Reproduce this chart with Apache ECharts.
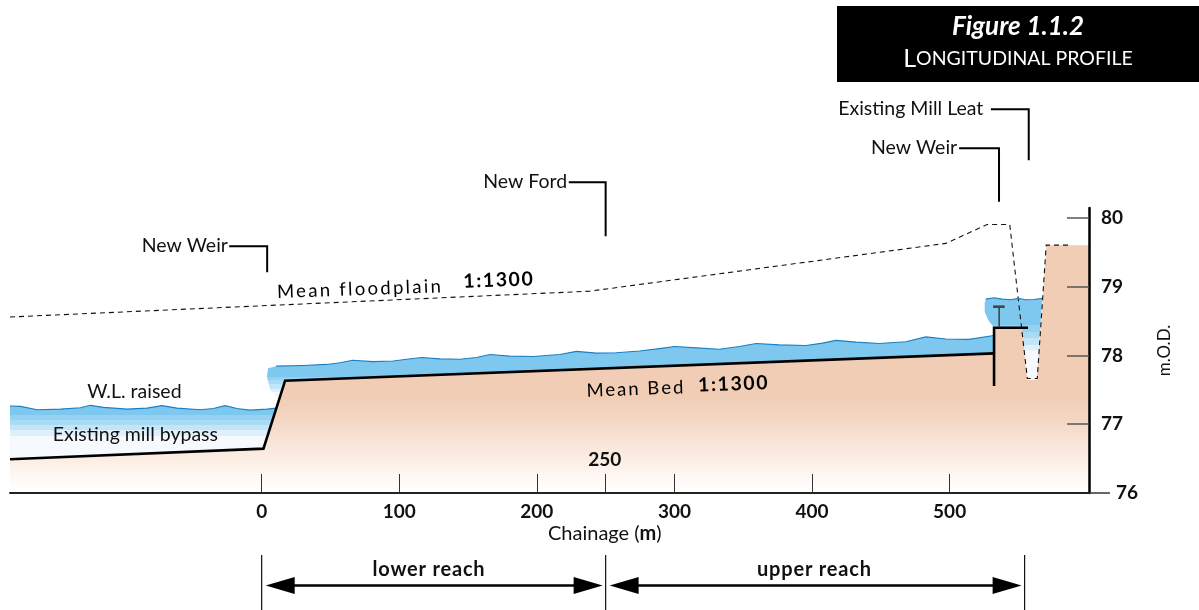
<!DOCTYPE html>
<html><head><meta charset="utf-8">
<script src="https://cdn.jsdelivr.net/npm/echarts@6/dist/echarts.min.js"></script>
<style>html,body{margin:0;padding:0;background:#fff}#c{width:1199px;height:610px}</style>
</head><body><div id="c"></div>
<script>
// Chainage (m), level (m.O.D.)
const xTickValues = [0,100,200,250,300,400,500];
const xLabelValues = [0,100,200,300,400,500];
const yTickValues = [77,78,79,80];

const bedLower = [[-182.9,76.49],[1.3,76.645],[17.05,77.633],[532.3,78.03]];
const weirCrest = [[532.3,77.555],[532.3,78.403],[557,78.403]];
const bedOutline = [[-182.9,76.49],[1.3,76.645],[17.05,77.633],[532.3,78.03],[532.3,78.403],[552.4,78.403],[556.5,77.643],[563.3,77.643],[570.5,79.605],[601.3,79.605],[601.3,76],[-182.9,76]];

const floodplain = [[-182.9,78.56],[238.4,78.935],[497.2,79.63],[527.2,79.905],[543.7,79.905],[556.5,77.665],[563.7,77.665],[570.2,79.605],[589,79.605]];

const surfaceLower = [[-182.9,77.265],[-175.3,77.26],[-163.1,77.21],[-146.2,77.22],[-131.7,77.24],[-124.5,77.275],[-115,77.245],[-97.8,77.22],[-83.3,77.235],[-72.4,77.27],[-61.5,77.235],[-44.6,77.21],[-35.2,77.23],[-26.5,77.27],[-18,77.23],[-8.3,77.205],[3.8,77.22],[11,77.235]];
const surfaceUpper = [[10.5,77.845],[30.3,77.855],[47.3,77.87],[57,77.895],[66.2,77.93],[81.1,77.91],[95.6,77.92],[105.4,77.945],[116.3,77.97],[129.5,77.95],[144,77.945],[156.2,77.97],[165.8,78.015],[180.3,77.99],[197.2,77.985],[216.7,78.015],[228.7,78.06],[243.2,78.035],[257.8,78.04],[274.7,78.065],[289.2,78.1],[300,78.13],[315.8,78.11],[332.7,78.09],[347.2,78.13],[359.4,78.175],[376.3,78.155],[395.6,78.145],[407.7,78.18],[417.4,78.22],[431.9,78.195],[448.9,78.175],[468.2,78.2],[482.7,78.27],[497.2,78.24],[514.1,78.235],[532.2,78.29]];
const surfacePool = [[526.3,78.82],[532.3,78.84],[538.3,78.82],[544.4,78.81],[549.9,78.83],[555.3,78.81],[561.3,78.815],[567.3,78.83]];

const waterLowerEdge = [[1.3,76.645],[-182.9,76.49]];
const waterUpperEdge = [[532.3,78.03],[17.05,77.633],[12.6,77.35],[6.2,77.5],[3.8,77.69],[4.7,77.815]];
const waterPoolEdge = [[563.3,77.643],[556.5,77.643],[552.4,78.403],[532.3,78.403],[528,78.515],[525.5,78.635],[525.5,78.765]];

const weirStem = [[536,78.705],[536,78.41]];
const weirCap = [[531.6,78.71],[540,78.71]];

const leaderNewWeirA = [[-23.6,79.59],[4,79.59],[4,79.21]];
const leaderNewFord = [[223.2,80.52],[250,80.52],[250,79.735]];
const leaderNewWeirB = [[506.9,81.015],[535.9,81.015],[535.9,80.235]];
const leaderMillLeat = [[530,81.58],[557.5,81.58],[557.5,80.84]];
const axisTail = [[601.3,76],[616.5,76]];

const reachBounds = [0,250,554.5];
const reachLevels = [75.1,74.3];
const reachArrowLevel = 74.653;

const annotations = [
  ['New Weir',-24.5,79.59],['New Ford',222,80.52],['New Weir',505.5,81.015],['Existing Mill Leat',524.5,81.595],
  ['W.L. raised',-92.5,77.468],['Existing mill bypass',-91.8,76.845]
];
const plainBold = [['250',249.4,76.48],['76',629,76.0]];
const chainageLabel = ['Chainage ({b|m})',249.4,75.405];
const reachLabels = [['lower reach',121.6,74.885],['upper reach',401.7,74.885]];
const slopeNames = [['Mean floodplain',71.5,78.965],['Mean Bed',272,77.512]];
const slopeRatios = [['1:1300',172.4,79.095],['1:1300',343,77.585]];

// Letter-spaced lettering (a drawing style only)
const SPACING = {'Mean floodplain':2.3,'Mean Bed':2,'1:1300':1.6,'lower reach':0.8,'upper reach':0.8};
const nativeFill = CanvasRenderingContext2D.prototype.fillText;
CanvasRenderingContext2D.prototype.fillText = function(t,x,y,m){
  this.letterSpacing = (SPACING[t]||0)+'px';
  return m===undefined ? nativeFill.call(this,t,x,y) : nativeFill.call(this,t,x,y,m);
};

const FONT = 'Lato';
const bands = (list) => list.flatMap(([a,b,c]) => [{offset:a,color:c},{offset:b,color:c}]);

function polygon(name, pts, stops, z){
  return {type:'custom',name,silent:true,z,clip:false,coordinateSystem:'cartesian2d',data:pts,encode:{x:0,y:1},
    renderItem(p,api){
      if(p.dataIndex!==0) return;
      return {type:'polygon',shape:{points:pts.map(q=>api.coord(q))},
        style:{fill:new echarts.graphic.LinearGradient(0,0,0,1,stops)},silent:true};
    }};
}
function line(name, pts, color, width, dash, z){
  return {type:'line',name,data:pts,clip:false,silent:true,symbol:'none',z:z||6,animation:false,
    lineStyle:{color,width,type:dash||'solid',cap:'butt',join:'miter'}};
}
function texts(name, list, base, rich){
  return {type:'custom',name,silent:true,z:8,clip:false,data:list.map(l=>[l[1],l[2]]),encode:{x:0,y:1},
    renderItem(p,api){
      const c=api.coord([list[p.dataIndex][1],list[p.dataIndex][2]]);
      return {type:'text',x:c[0],y:c[1],rotation:base.rotation||0,silent:true,
        style:{text:list[p.dataIndex][0],x:0,y:0,fill:base.fill||'#111',
          font:`${base.weight||'normal'} ${base.size}px ${base.family||FONT}`,
          align:base.align||'center',verticalAlign:'middle',rich:rich||undefined}};
    }};
}
const tailSeries = {type:'custom',name:'Axis tail',silent:true,z:6,clip:false,data:axisTail,encode:{x:0,y:1},
  renderItem(p,api){
    if(p.dataIndex!==0) return;
    const a=api.coord(axisTail[0]), b=api.coord(axisTail[1]);
    return {type:'line',shape:{x1:a[0],y1:a[1],x2:b[0],y2:b[1]},style:{stroke:'#333',lineWidth:1.5}};
  }};
const reachSeries = {type:'custom',name:'reach',silent:true,z:7,clip:false,data:[[0,1]],encode:{x:0},
  renderItem(p,api){
    const kids=[];
    const yA=api.coord([0,reachLevels[0]])[1], yB=api.coord([0,reachLevels[1]])[1], yM=api.coord([0,reachArrowLevel])[1];
    reachBounds.forEach(v=>{const x=api.coord([v,0])[0];
      kids.push({type:'line',shape:{x1:x,y1:yA,x2:x,y2:yB},style:{stroke:'#111',lineWidth:1.2}});});
    for(let i=0;i<2;i++){
      const a=api.coord([reachBounds[i],0])[0]+4, b=api.coord([reachBounds[i+1],0])[0]-3;
      kids.push({type:'line',shape:{x1:a+20,y1:yM,x2:b-20,y2:yM},style:{stroke:'#000',lineWidth:2.5}});
      kids.push({type:'polygon',shape:{points:[[a,yM],[a+29,yM-8.5],[a+29,yM+8.5]]},style:{fill:'#000'}});
      kids.push({type:'polygon',shape:{points:[[b,yM],[b-29,yM-8.5],[b-29,yM+8.5]]},style:{fill:'#000'}});
    }
    return {type:'group',children:kids};
  }};

const BLUE='#7EC8F0';
const chart = echarts.init(document.getElementById('c'),null,{renderer:'canvas'});
chart.setOption({
  animation:false,backgroundColor:'#fff',
  title:{text:'{a|Figure 1.1.2}\n{b|L}{c|ONGITUDINAL PROFILE}',left:1018,top:9,textAlign:'center',padding:0,
    textStyle:{color:'#fff',fontWeight:'normal',rich:{
      a:{fontFamily:FONT,fontSize:26,fontWeight:'bold',fontStyle:'italic',color:'#fff',lineHeight:36,align:'center'},
      b:{fontFamily:FONT,fontSize:25,fontWeight:'normal',color:'#fff',lineHeight:28},
      c:{fontFamily:FONT,fontSize:19.5,fontWeight:'normal',color:'#fff',lineHeight:28}}}},
  graphic:[{type:'rect',z:-1,silent:true,shape:{x:837,y:6,width:362,height:76},style:{fill:'#000'}}],
  grid:{left:10,right:110,top:208,bottom:117,containLabel:false},
  xAxis:{type:'value',min:-182.9,max:601.3,z:5,splitLine:{show:false},
    axisLine:{show:true,onZero:false,lineStyle:{color:'#222',width:2}},
    axisTick:{show:true,inside:true,length:19,customValues:xTickValues,lineStyle:{color:'#333',width:1}},
    axisLabel:{show:true,margin:9,customValues:xLabelValues,fontFamily:FONT,fontSize:19,fontWeight:'bold',color:'#111',hideOverlap:false}},
  yAxis:{type:'value',position:'right',min:76,max:80.145,interval:1,z:5,splitLine:{show:false},
    name:'m.O.D.',nameLocation:'middle',nameRotate:90,nameGap:67,nameTextStyle:{fontFamily:FONT,fontSize:17,color:'#111',padding:[0,0,6,0]},
    axisLine:{show:true,onZero:false,lineStyle:{color:'#000',width:2.5}},
    axisTick:{show:true,inside:true,length:22,customValues:yTickValues,lineStyle:{color:'#555',width:1.5}},
    axisLabel:{show:true,margin:12,customValues:yTickValues,fontFamily:FONT,fontSize:19,fontWeight:'bold',color:'#111'}},
  series:[
    polygon('Water lower',surfaceLower.concat(waterLowerEdge),bands([[0,.184,'#7EC8F0'],[.184,.276,'#94D1F2'],[.276,.368,'#AADBF5'],[.368,.46,'#C3E5F8'],[.46,.57,'#DDF0FB'],[.57,1,'#F6FAFF']]),2),
    polygon('Water upper',surfaceUpper.concat(waterUpperEdge),bands([[0,.64,BLUE],[.64,.695,'#94D1F2'],[.695,.757,'#AADBF5'],[.757,.82,'#C3E5F8'],[.82,.88,'#DDF0FB'],[.88,1,'#F3F9FE']]),2),
    polygon('Water pool',surfacePool.concat(waterPoolEdge),bands([[0,.33,BLUE],[.33,.417,'#94D1F2'],[.417,.49,'#AADBF5'],[.49,.575,'#C3E5F8'],[.575,.64,'#DDF0FB'],[.64,1,'#F6FAFF']]),2),
    polygon('Ground',bedOutline,[{offset:0,color:'#F0CDB4'},{offset:.6,color:'#F0CDB4'},{offset:.7,color:'#F3D6C2'},{offset:.79,color:'#F8E4D7'},{offset:.87,color:'#FCEEE5'},{offset:.93,color:'#FEF7F3'},{offset:1,color:'#FFFFFF'}],3),
    line('Mean floodplain',floodplain,'#111',1.1,[5,4],6),
    line('W.L. lower',surfaceLower,'#1C7FC2',1.1),
    line('W.L. upper',surfaceUpper,'#1C7FC2',1.1),
    line('W.L. pool',surfacePool,'#1C7FC2',1.1),
    line('Mean Bed',bedLower,'#000',2.6),
    line('Weir crest',weirCrest,'#000',2.6),
    line('Weir stem',weirStem,'#444',1.6),
    line('Weir cap',weirCap,'#444',2.6),
    line('Leader A',leaderNewWeirA,'#000',2),
    line('Leader B',leaderNewFord,'#000',2),
    line('Leader C',leaderNewWeirB,'#000',2),
    line('Leader D',leaderMillLeat,'#000',2),
    tailSeries,
    reachSeries,
    texts('Leader labels',annotations.slice(0,4),{size:19.5,align:'right'}),
    texts('Notes',annotations.slice(4),{size:19.5}),
    texts('Bold notes',plainBold,{size:19,weight:'bold'}),
    texts('Chainage',[chainageLabel],{size:20},{b:{fontFamily:FONT,fontSize:20,fontWeight:'bold',fill:'#111',color:'#111'}}),
    texts('Reach labels',reachLabels,{size:20,weight:'bold'}),
    texts('Slope names',slopeNames,{size:18.5,rotation:0.035,fill:'#000'}),
    texts('Slope ratios',slopeRatios,{size:19.5,weight:'bold',rotation:0.035,fill:'#000'})
  ]
});
</script></body></html>
